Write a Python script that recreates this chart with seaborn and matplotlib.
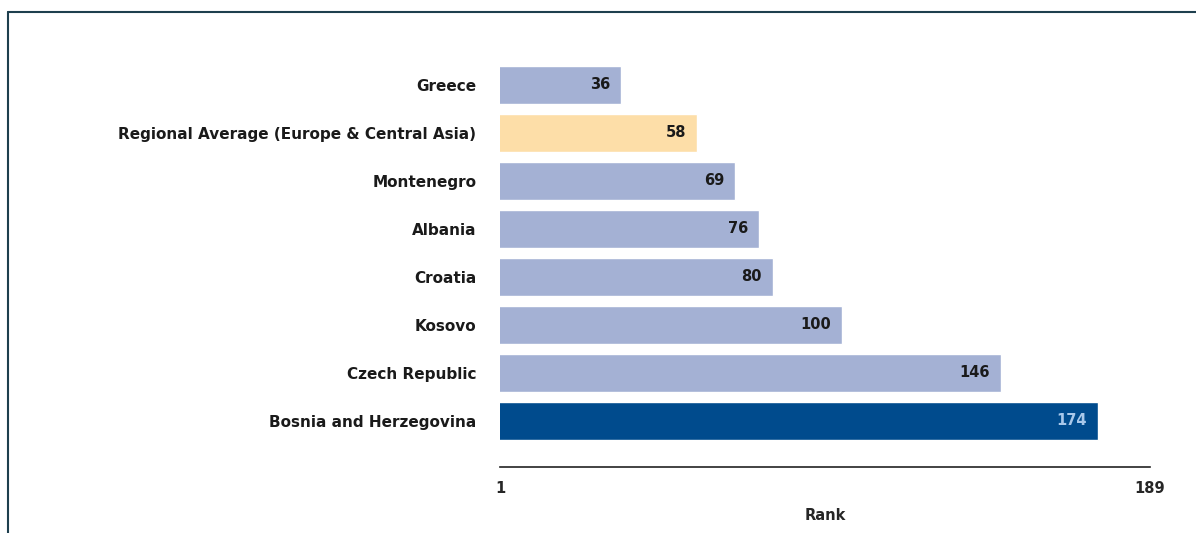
import matplotlib.pyplot as plt
import matplotlib.lines as mlines
import pandas as pd
import seaborn as sns

# Ease of doing business style ranking (1 = best, 189 = worst)
countries = [
    "Greece",
    "Regional Average (Europe & Central Asia)",
    "Montenegro",
    "Albania",
    "Croatia",
    "Kosovo",
    "Czech Republic",
    "Bosnia and Herzegovina",
]
ranks = [36, 58, 69, 76, 80, 100, 146, 174]
rank_min, rank_max = 1, 189

bar_colors = ["#A4B1D4", "#FDDEA8", "#A4B1D4", "#A4B1D4",
              "#A4B1D4", "#A4B1D4", "#A4B1D4", "#004B8D"]
label_colors = ["#1A1A1A"] * 7 + ["#A9C8EA"]

sns.set_theme(style="white")
plt.rcParams["font.family"] = ["DejaVu Sans"]

df = pd.DataFrame({"country": countries, "rank": ranks})

fig = plt.figure(figsize=(11.96, 5.33), dpi=100)
ax = fig.add_axes([500 / 1196, 1 - 467 / 533, 650 / 1196, (467 - 55) / 533])

sns.barplot(data=df, x="rank", y="country", hue="country", palette=bar_colors,
            legend=False, width=0.8, saturation=1, ax=ax)

for i, (val, col) in enumerate(zip(ranks, label_colors)):
    ax.text(val - 3.2, i, f"{val}", ha="right", va="center",
            fontsize=10.5, fontweight="bold", color=col)

ax.set_xlim(rank_min, rank_max)
ax.set_ylim(7.96, -0.62)
ax.set_xticks([rank_min, rank_max])
ax.set_xticklabels([str(rank_min), str(rank_max)], fontsize=10.5, fontweight="bold")
ax.tick_params(axis="x", length=0, pad=10)
ax.tick_params(axis="y", length=0, pad=17)
for lbl in ax.get_yticklabels():
    lbl.set_fontsize(11)
    lbl.set_fontweight("bold")
    lbl.set_color("#1A1A1A")

ax.set_xlabel("Rank", fontsize=10.5, fontweight="bold", labelpad=9)
ax.set_ylabel("")
for side in ["top", "right", "left"]:
    ax.spines[side].set_visible(False)
ax.spines["bottom"].set_color("#222222")
ax.spines["bottom"].set_linewidth(1.2)

# Outer frame (top and left edges visible)
frame_col = "#1E3F4E"
fig.add_artist(mlines.Line2D([8 / 1196, 1.0], [1 - 12 / 533, 1 - 12 / 533],
                             transform=fig.transFigure, color=frame_col, linewidth=1.5))
fig.add_artist(mlines.Line2D([8 / 1196, 8 / 1196], [0.0, 1 - 12 / 533],
                             transform=fig.transFigure, color=frame_col, linewidth=1.5))

fig.savefig("out.png", dpi=100)
